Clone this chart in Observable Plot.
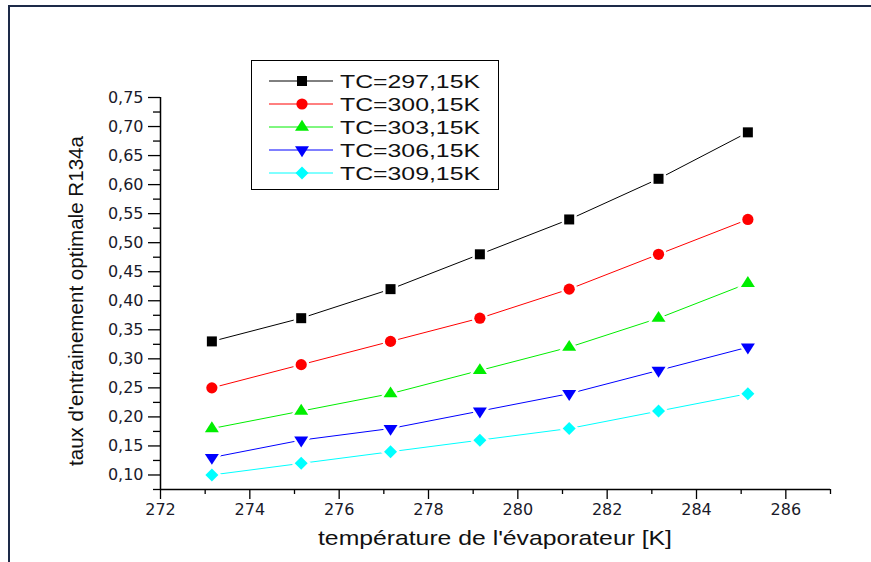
<!DOCTYPE html>
<html><head><meta charset="utf-8">
<script src="https://cdn.jsdelivr.net/npm/d3@7"></script>
<script src="https://cdn.jsdelivr.net/npm/@observablehq/plot@0.6"></script>
<style>
html,body{margin:0;padding:0;background:#fff;}
#wrap{position:relative;width:871px;height:562px;overflow:hidden;background:#fff;}
#wrap svg{position:absolute;left:0;top:0;}
#frame{position:absolute;left:8px;top:5px;width:900px;height:600px;border-top:2px solid #1d2a48;border-left:2px solid #1d2a48;z-index:3;pointer-events:none;}
#legend{position:absolute;left:251px;top:60px;width:246px;height:128px;border:1.5px solid #000;background:#fff;z-index:2;}
</style></head><body>
<div id="wrap"><div id="frame"></div><div id="legend"></div></div>
<script>
// ---- data ----
const evapTemps = [273.15, 275.15, 277.15, 279.15, 281.15, 283.15, 285.15];
const seriesNames = ["TC=297,15K", "TC=300,15K", "TC=303,15K", "TC=306,15K", "TC=309,15K"];
const tc297 = [0.33, 0.37, 0.42, 0.48, 0.54, 0.61, 0.69];
const tc300 = [0.25, 0.29, 0.33, 0.37, 0.42, 0.48, 0.54];
const tc303 = [0.18, 0.21, 0.24, 0.28, 0.32, 0.37, 0.43];
const tc306 = [0.13, 0.16, 0.18, 0.21, 0.24, 0.28, 0.32];
const tc309 = [0.10, 0.12, 0.14, 0.16, 0.18, 0.21, 0.24];
const seriesValues = [tc297, tc300, tc303, tc306, tc309];
const seriesColors = ["#000000", "#ff0000", "#00ee00", "#0000ff", "#00ffff"];
const xTicks = [272, 274, 276, 278, 280, 282, 284, 286];
const xMinorTicks = [273, 275, 277, 279, 281, 283, 285, 287];
const yTicks = [0.10, 0.15, 0.20, 0.25, 0.30, 0.35, 0.40, 0.45, 0.50, 0.55, 0.60, 0.65, 0.70, 0.75];
const yMinorTicks = [0.075, 0.125, 0.175, 0.225, 0.275, 0.325, 0.375, 0.425, 0.475, 0.525, 0.575, 0.625, 0.675, 0.725];
const xDomain = [272, 287];
const yDomain = [0.075, 0.75];
const xLabel = "température de l'évaporateur [K]";
const yLabel = "taux d'entrainement optimale R134a";

// ---- symbols ----
const hs = size => Math.sqrt(size / Math.PI);
const symSquare = {draw(c, s){ const h = hs(s); c.rect(-h, -h, 2*h, 2*h); }};
const symCircle = {draw(c, s){ const h = hs(s); c.moveTo(h, 0); c.arc(0, 0, h, 0, 2*Math.PI); }};
const symTriUp = {draw(c, s){ const h = hs(s); const H = h*Math.sqrt(3)*0.9; c.moveTo(0, -H*2/3); c.lineTo(h, H/3); c.lineTo(-h, H/3); c.closePath(); }};
const symTriDown = {draw(c, s){ const h = hs(s); const H = h*Math.sqrt(3)*0.9; c.moveTo(0, H*2/3); c.lineTo(h, -H/3); c.lineTo(-h, -H/3); c.closePath(); }};
const symDiamond = {draw(c, s){ const h = hs(s); c.moveTo(0, -h); c.lineTo(h, 0); c.lineTo(0, h); c.lineTo(-h, 0); c.closePath(); }};
const seriesSymbols = [symSquare, symCircle, symTriUp, symTriDown, symDiamond];
const seriesR = [5, 5.6, 7, 7, 6.5];

const rows = seriesNames.flatMap((name, i) => evapTemps.map((t, j) => ({x: t, y: seriesValues[i][j], series: name})));
const fmt = d => d.toFixed(2).replace(".", ",");

const lineMarks = seriesNames.map((name, i) => Plot.line(rows.filter(d => d.series === name), {x: "x", y: "y", stroke: seriesColors[i], strokeWidth: 1}));
const dotMarks = seriesNames.map((name, i) => Plot.dot(rows.filter(d => d.series === name), {x: "x", y: "y", symbol: seriesSymbols[i], r: seriesR[i], fill: seriesColors[i], stroke: "white", strokeWidth: 5, paintOrder: "stroke"}));

const plot = Plot.plot({
  width: 871, height: 562,
  marginLeft: 160, marginRight: 41, marginTop: 97, marginBottom: 73,
  style: {background: "transparent", fontFamily: "DejaVu Sans", overflow: "visible"},
  x: {domain: xDomain},
  y: {domain: yDomain},
  marks: [
    ...lineMarks,
    ...dotMarks,
    Plot.axisX(xTicks, {tickSize: 10, tickPadding: 4, fontSize: 16, tickFormat: d => String(d), label: null, strokeWidth: 1.3, fill: "#1a1a2a"}),
    Plot.axisX(xMinorTicks, {tickSize: 5, tickFormat: () => "", label: null, strokeWidth: 1.3}),
    Plot.axisY(yTicks, {tickSize: 12, tickPadding: 5, fontSize: 16, tickFormat: fmt, label: null, strokeWidth: 1.3, fill: "#1a1a2a"}),
    Plot.axisY(yMinorTicks, {tickSize: 7, tickFormat: () => "", label: null, strokeWidth: 1.3}),
    Plot.ruleX([xDomain[0]], {strokeWidth: 1.5}),
    Plot.ruleY([yDomain[0]], {strokeWidth: 1.5})
  ]
});
document.getElementById("wrap").prepend(plot);

const svg = d3.select(plot);
svg.append("text").attr("x", 495).attr("y", 545).attr("text-anchor", "middle")
  .attr("font-family", "Liberation Sans, Arial, sans-serif").attr("font-size", 21).attr("fill", "#111")
  .attr("textLength", 354).attr("lengthAdjust", "spacingAndGlyphs")
  .text(xLabel);
svg.append("text").attr("transform", "translate(83,301) rotate(-90)").attr("text-anchor", "middle")
  .attr("font-family", "Liberation Sans, Arial, sans-serif").attr("font-size", 20).attr("fill", "#111")
  .attr("textLength", 330).attr("lengthAdjust", "spacingAndGlyphs")
  .text(yLabel);

// ---- legend ----
const lg = d3.select("#legend").append("svg").attr("width", 246).attr("height", 128).style("display", "block");
seriesNames.forEach((name, i) => {
  const cy = 20 + 23 * i;
  lg.append("line").attr("x1", 17).attr("x2", 81).attr("y1", cy).attr("y2", cy).attr("stroke", seriesColors[i]).attr("stroke-width", 1);
  lg.append("path").attr("transform", `translate(50,${cy})`)
    .attr("d", d3.symbol(seriesSymbols[i], Math.PI * seriesR[i] * seriesR[i])())
    .attr("fill", seriesColors[i]);
  lg.append("text").attr("x", 88).attr("y", cy + 7).attr("font-family", "Liberation Sans, Arial, sans-serif")
    .attr("font-size", 19).attr("fill", "#111").attr("textLength", 140).attr("lengthAdjust", "spacingAndGlyphs")
    .text(name);
});
</script>
</body></html>
